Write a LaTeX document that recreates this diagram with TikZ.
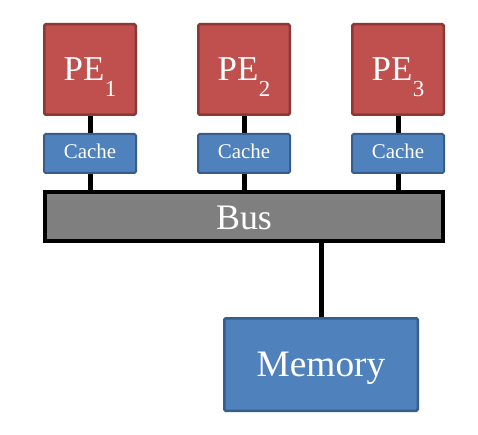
\documentclass[tikz,border=0pt]{standalone}
\usepackage{fontspec}
\setmainfont{Liberation Serif}
\usetikzlibrary{backgrounds}
\definecolor{pefill}{HTML}{C0504D}
\definecolor{pedraw}{HTML}{8C3836}
\definecolor{bluefill}{HTML}{4F81BD}
\definecolor{bluedraw}{HTML}{385D8A}
\definecolor{busfill}{HTML}{7F7F7F}
\tikzset{
  pebox/.style={draw=pedraw, fill=pefill, line width=2.5bp, rounded corners=1.5bp,
    minimum width=91.5bp, minimum height=90.5bp, inner sep=0pt, text=white,
    font=\fontsize{35}{35}\selectfont, text height=23bp, text depth=0bp},
  cachebox/.style={draw=bluedraw, fill=bluefill, line width=2bp, rounded corners=1.5bp,
    minimum width=92bp, minimum height=39bp, inner sep=0pt, text=white,
    font=\fontsize{21}{21}\selectfont, text height=11bp, text depth=0bp},
  busbox/.style={draw=black, fill=busfill, line width=4bp,
    minimum width=398bp, minimum height=49bp, inner sep=0pt, text=white,
    font=\fontsize{36}{36}\selectfont, text height=27bp, text depth=0bp},
  membox/.style={draw=bluedraw, fill=bluefill, line width=2.5bp, rounded corners=1.5bp,
    minimum width=193.5bp, minimum height=92.5bp, inner sep=0pt, text=white,
    font=\fontsize{37.5}{37.5}\selectfont, text height=24bp, text depth=0bp},
  wire/.style={draw=black, line width=5bp}
}
\newcommand{\pesub}[1]{PE\kern0.5bp\raisebox{-16bp}{\fontsize{23}{23}\selectfont #1}}
\begin{document}
\begin{tikzpicture}[x=1bp, y=-1bp]
\useasboundingbox (0,0) rectangle (478,435);
\node[pebox] (pe1) at (90,69.5) {\pesub{1}};
\node[pebox] (pe2) at (244,69.5) {\pesub{2}};
\node[pebox] (pe3) at (398,69.5) {\pesub{3}};
\node[cachebox] (c1) at (90,153.5) {Cache};
\node[cachebox] (c2) at (244,153.5) {Cache};
\node[cachebox] (c3) at (398,153.5) {Cache};
\node[busbox] (bus) at (244,216.5) {Bus};
\node[membox] (mem) at (321,364.5) {Memory};
\begin{scope}[on background layer]
\draw[wire] (pe1.south) -- (c1.north);
\draw[wire] (pe2.south) -- (c2.north);
\draw[wire] (pe3.south) -- (c3.north);
\draw[wire] (c1.south) -- (c1.south |- bus.north);
\draw[wire] (c2.south) -- (c2.south |- bus.north);
\draw[wire] (c3.south) -- (c3.south |- bus.north);
\draw[wire] (mem.north |- bus.south) -- (mem.north);
\end{scope}
\end{tikzpicture}
\end{document}
